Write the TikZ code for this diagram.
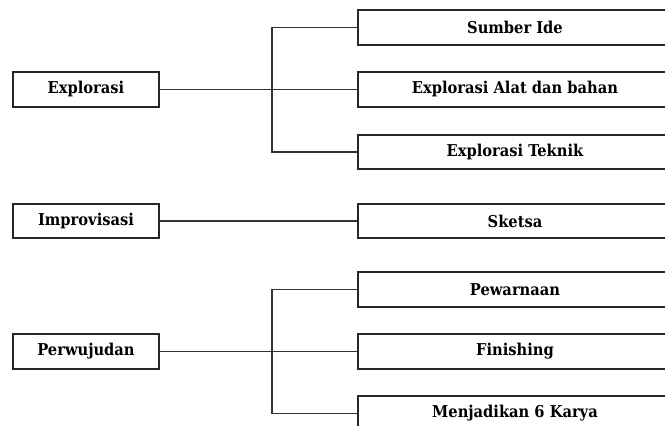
\documentclass[tikz,border=0pt]{standalone}
\usepackage{fontspec}
\newfontfamily\boxfont{DejaVu Serif Condensed}[BoldFont={DejaVu Serif Condensed Bold}]
\begin{document}
\begin{tikzpicture}[x=1pt,y=-1pt,
  box/.style={draw=black!85, line width=1.7pt, minimum height=34.5pt, inner sep=0pt,
    font=\boxfont\fontsize{16.3}{19}\selectfont\bfseries, fill=white},
  leftbox/.style={box, minimum width=146pt},
  rightbox/.style={box, minimum width=314pt},
  conn/.style={draw=black!80, line width=1.8pt}]
\useasboundingbox (0,0) rectangle (665,426);
\clip (0,0) rectangle (665,426);
\node[leftbox] (explorasi) at (86,89.5) {Explorasi};
\node[leftbox] (improvisasi) at (86,221) {Improvisasi};
\node[leftbox] (perwujudan) at (86,351.5) {Perwujudan};
\node[rightbox] (sumber) at (515,27.5) {Sumber Ide};
\node[rightbox] (alat) at (515,89.5) {Explorasi Alat dan bahan};
\node[rightbox] (teknik) at (515,152) {Explorasi Teknik};
\node[rightbox] (sketsa) at (515,221) {Sketsa};
\node[rightbox] (pewarnaan) at (515,289.5) {Pewarnaan};
\node[rightbox] (finishing) at (515,351.5) {Finishing};
\node[rightbox] (karya) at (515,413.5) {Menjadikan 6 Karya};
\coordinate (bx1) at (272,0);
\draw[conn] (explorasi.east) -- (alat.west);
\draw[conn] (sumber.west) -- (sumber.west -| bx1) -- (teknik.west -| bx1) -- (teknik.west);
\draw[conn] (improvisasi.east) -- (sketsa.west);
\draw[conn] (perwujudan.east) -- (finishing.west);
\draw[conn] (pewarnaan.west) -- (pewarnaan.west -| bx1) -- (karya.west -| bx1) -- (karya.west);
\end{tikzpicture}
\end{document}
